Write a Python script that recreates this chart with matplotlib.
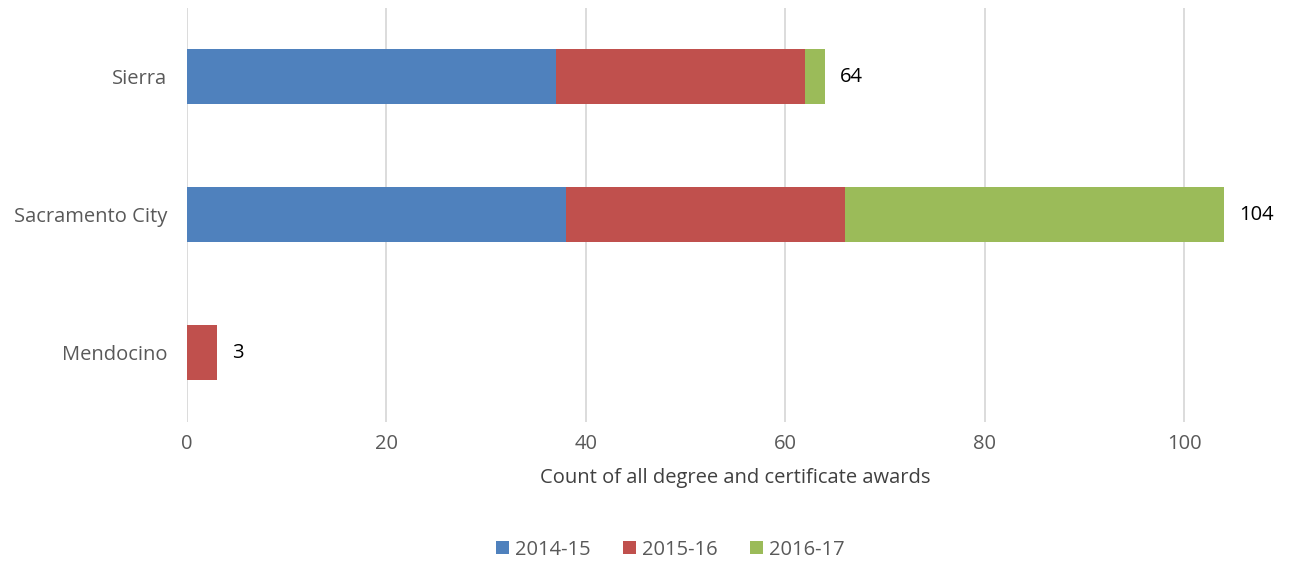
import matplotlib.pyplot as plt
import numpy as np

plt.rcParams['font.family'] = ['Open Sans', 'DejaVu Sans']

colleges = ["Mendocino", "Sacramento City", "Sierra"]
years = ["2014-15", "2015-16", "2016-17"]
awards_1415 = [0, 38, 37]
awards_1516 = [3, 28, 25]
awards_1617 = [0, 38, 2]
colors = ["#4F81BD", "#C0504D", "#9BBB59"]

fig = plt.figure(figsize=(12.89, 5.61), dpi=100)
ax = fig.add_axes([0.145, 0.248, 0.851, 0.738])

y = np.arange(len(colleges))
left = np.zeros(len(colleges))
for vals, lab, col in zip([awards_1415, awards_1516, awards_1617], years, colors):
    ax.barh(y, vals, left=left, height=0.4, color=col, label=lab, zorder=3)
    left += np.array(vals)

# total labels at the end of each bar
for yi, tot in zip(y, left):
    ax.text(tot + 1.5, yi, f"{int(tot)}", va="center", ha="left", fontsize=14.5, color="black")

ax.set_xlim(0, 110)
ax.set_ylim(-0.5, 2.5)
ax.set_xticks(range(0, 101, 20))
ax.set_yticks(y)
ax.set_yticklabels(colleges)
ax.tick_params(axis="both", length=0, labelsize=14.5, colors="#595959")
ax.tick_params(axis="x", pad=9)
ax.tick_params(axis="y", pad=14)
ax.grid(axis="x", color="#d9d9d9", linewidth=1.3, zorder=0)
for s in ax.spines.values():
    s.set_visible(False)

ax.set_xlabel("Count of all degree and certificate awards", fontsize=14.5, color="#404040", labelpad=10)

fig.legend(loc="lower center", bbox_to_anchor=(0.52, -0.03), ncol=3, frameon=False,
           fontsize=14.5, handlelength=0.65, handleheight=0.65, handletextpad=0.3,
           columnspacing=1.6, labelcolor="#595959")

fig.savefig("out.png", dpi=100)
